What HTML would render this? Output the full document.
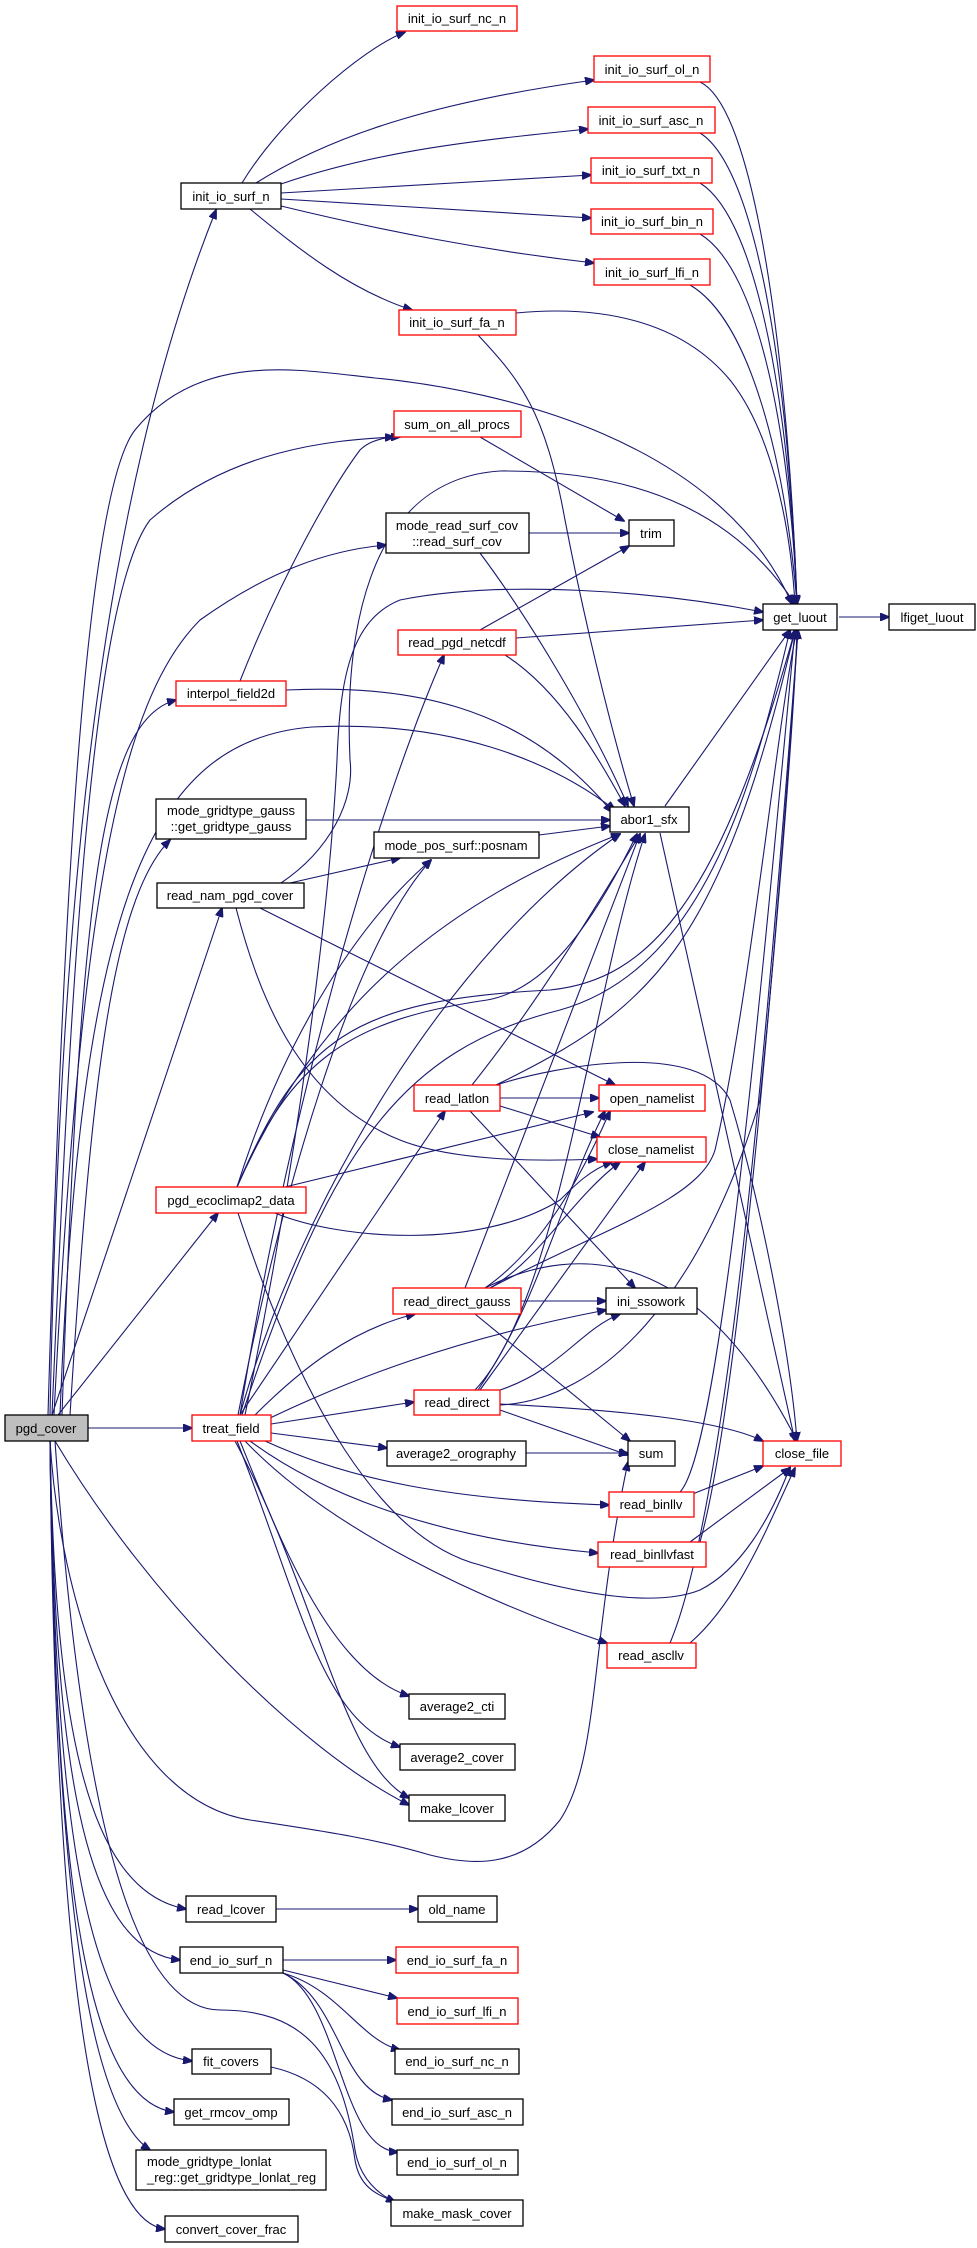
<!DOCTYPE html>
<html><head><meta charset="utf-8"><style>
html,body{margin:0;padding:0;background:#fff;}
svg{display:block;}
text{font-family:"Liberation Sans",sans-serif;font-size:13px;fill:#000;}
.e{fill:none;stroke:#191970;stroke-width:1.1;marker-end:url(#a);}
.n{fill:#fff;stroke:#000;stroke-width:1.3;}
.r{fill:#fff;stroke:#ff0000;stroke-width:1.3;}
</style></head><body>
<svg width="977" height="2248" viewBox="0 0 977 2248" xmlns="http://www.w3.org/2000/svg">
<defs><marker id="a" markerWidth="10" markerHeight="8" refX="9" refY="4" orient="auto" markerUnits="userSpaceOnUse"><path d="M0,0 L10,4 L0,8 z" fill="#191970" stroke="#191970"/></marker></defs>
<g>
<!-- init_io_surf_n edges -->
<path class="e" d="M242,183 C280,120 360,50 405,32"/>
<path class="e" d="M256,183 C340,130 450,100 594,80"/>
<path class="e" d="M281,184 C380,150 480,140 588,129"/>
<path class="e" d="M281,193 L591,175"/>
<path class="e" d="M281,199 L591,218"/>
<path class="e" d="M281,206 C380,230 480,250 594,263"/>
<path class="e" d="M250,209 C300,250 350,290 412,310"/>
<!-- to get_luout from init_io_* -->
<path class="e" d="M700,82 C760,110 790,400 797,604"/>
<path class="e" d="M700,133 C760,170 790,400 797,604"/>
<path class="e" d="M700,183 C760,220 790,420 797,604"/>
<path class="e" d="M700,234 C760,270 790,440 797,604"/>
<path class="e" d="M690,285 C750,320 785,460 797,604"/>
<path class="e" d="M516,313 C600,305 680,320 730,380 C770,430 790,520 795,604"/>
<path class="e" d="M478,335 C520,380 545,410 565,520 C590,650 620,760 634,806"/>
<!-- pgd_cover long edges -->
<path class="e" d="M50,1415 C60,900 100,500 216,210"/>
<path class="e" d="M48,1415 C60,1000 80,500 135,430 C200,350 300,370 375,378 C500,390 720,440 792,604"/>
<path class="e" d="M52,1415 C70,1000 90,600 150,520 C230,450 330,440 394,437"/>
<path class="e" d="M240,681 C280,580 330,490 360,450 C370,440 385,437 400,437"/>
<path class="e" d="M480,437 L624,521"/>
<path class="e" d="M529,533 L629,533"/>
<path class="e" d="M480,630 L629,546"/>
<path class="e" d="M516,638 L763,620"/>
<path class="e" d="M839,617 L889,617"/>
<path class="e" d="M54,1415 C80,900 120,700 200,620 C270,570 330,550 386,545"/>
<path class="e" d="M281,883 C330,850 355,800 350,760 C345,650 360,480 500,471 C650,470 740,520 795,604"/>
<path class="e" d="M245,1415 C300,1150 330,900 337,760 C340,680 350,620 400,600 C500,580 650,590 763,612"/>
<path class="e" d="M286,690 C400,685 520,700 612,812"/>
<path class="e" d="M60,1415 C80,900 150,740 312,727 C450,720 550,760 615,810"/>
<path class="e" d="M505,655 C560,690 600,760 625,806"/>
<path class="e" d="M480,553 C530,620 590,720 628,806"/>
<path class="e" d="M62,1415 C80,900 100,720 176,700"/>
<path class="e" d="M240,1415 C290,1100 380,800 444,655"/>
<path class="e" d="M70,1415 C90,1100 110,900 170,840"/>
<path class="e" d="M306,820 L610,820"/>
<path class="e" d="M539,835 L610,826"/>
<path class="e" d="M290,883 L400,858"/>
<path class="e" d="M260,908 L615,1085"/>
<path class="e" d="M236,908 C260,1000 300,1100 400,1140 C450,1160 530,1162 597,1159"/>
<path class="e" d="M52,1415 L222,908"/>
<path class="e" d="M58,1415 L218,1213"/>
<path class="e" d="M285,1187 L593,1112"/>
<path class="e" d="M275,1213 C340,1240 480,1250 560,1200 C575,1185 590,1170 612,1162"/>
<path class="e" d="M238,1213 C300,1400 380,1540 480,1565 C560,1590 650,1610 700,1590 C740,1570 770,1520 790,1467"/>
<path class="e" d="M237,1187 C280,1050 350,930 431,860"/>
<path class="e" d="M237,1187 C320,1000 450,900 620,834"/>
<path class="e" d="M237,1187 C290,1060 350,1020 487,1000 C544,990 590,930 637,834"/>
<path class="e" d="M237,1187 C300,1040 350,1000 550,990 C650,980 720,900 795,630"/>
<!-- treat_field edges -->
<path class="e" d="M255,1415 C300,1370 350,1330 415,1314"/>
<path class="e" d="M270,1418 C350,1380 450,1340 606,1310"/>
<path class="e" d="M271,1424 L414,1402"/>
<path class="e" d="M271,1433 L387,1448"/>
<path class="e" d="M265,1441 C350,1480 450,1500 609,1505"/>
<path class="e" d="M250,1441 C330,1500 450,1540 598,1553"/>
<path class="e" d="M245,1441 C330,1530 480,1600 607,1643"/>
<path class="e" d="M240,1441 C280,1540 330,1670 409,1696"/>
<path class="e" d="M237,1441 C300,1600 320,1720 400,1747"/>
<path class="e" d="M235,1441 C320,1600 340,1760 409,1798"/>
<path class="e" d="M240,1415 L445,1111"/>
<path class="e" d="M238,1415 C280,1200 350,950 431,860"/>
<path class="e" d="M240,1415 C300,1200 450,950 620,834"/>
<path class="e" d="M242,1415 C330,1150 400,1050 560,1010 C700,970 750,800 790,630"/>
<path class="e" d="M88,1428 L192,1428"/>
<path class="e" d="M55,1441 C150,1600 300,1750 409,1805"/>
<path class="e" d="M50,1441 C60,1600 120,1800 250,1820 C330,1832 380,1840 430,1855 C470,1865 520,1870 560,1820 C600,1760 590,1640 628,1462"/>
<!-- lower pgd_cover edges -->
<path class="e" d="M50,1441 C55,1700 80,1890 186,1909"/>
<path class="e" d="M50,1441 C55,1750 80,1950 180,1960"/>
<path class="e" d="M50,1441 C55,1800 80,2050 192,2061"/>
<path class="e" d="M50,1441 C55,1850 80,2100 174,2112"/>
<path class="e" d="M50,1441 C55,1900 90,2110 150,2150"/>
<path class="e" d="M50,1441 C55,1950 90,2220 165,2229"/>
<path class="e" d="M55,1441 C80,1800 130,2010 220,2010 C300,2010 340,2050 355,2150 C360,2180 380,2195 395,2202"/>
<!-- read_latlon -->
<path class="e" d="M500,1098 L599,1098"/>
<path class="e" d="M500,1106 L600,1137"/>
<path class="e" d="M470,1111 L635,1288"/>
<path class="e" d="M472,1085 C540,1000 600,900 640,834"/>
<path class="e" d="M496,1085 C650,1010 720,950 795,630"/>
<path class="e" d="M496,1085 C560,1065 700,1040 730,1100 C760,1200 790,1350 797,1441"/>
<!-- read_direct_gauss -->
<path class="e" d="M521,1301 L606,1301"/>
<path class="e" d="M475,1314 L630,1441"/>
<path class="e" d="M465,1288 L640,834"/>
<path class="e" d="M485,1288 C540,1250 580,1180 610,1111"/>
<path class="e" d="M490,1288 C540,1260 570,1200 620,1162"/>
<path class="e" d="M490,1288 C600,1230 700,1200 715,1150 C750,1000 780,700 797,630"/>
<path class="e" d="M485,1288 C580,1240 700,1250 797,1441"/>
<!-- read_direct -->
<path class="e" d="M500,1410 L628,1455"/>
<path class="e" d="M500,1404 C620,1410 720,1420 763,1441"/>
<path class="e" d="M500,1390 C560,1370 580,1330 620,1314"/>
<path class="e" d="M480,1390 L645,1162"/>
<path class="e" d="M478,1390 C540,1300 560,1200 605,1111"/>
<path class="e" d="M475,1390 C560,1300 590,1000 645,834"/>
<path class="e" d="M500,1405 C600,1400 700,1300 760,1100 C780,900 795,700 797,630"/>
<path class="e" d="M526,1453 L628,1453"/>
<!-- binllv etc -->
<path class="e" d="M690,1495 L763,1466"/>
<path class="e" d="M680,1492 C720,1450 760,1000 795,630"/>
<path class="e" d="M690,1542 L790,1468"/>
<path class="e" d="M700,1542 C740,1400 780,900 798,630"/>
<path class="e" d="M690,1643 C740,1600 770,1520 795,1468"/>
<path class="e" d="M670,1643 C730,1500 770,1000 798,630"/>
<path class="e" d="M665,806 L790,630"/>
<path class="e" d="M660,833 L795,1441"/>
<!-- bottom -->
<path class="e" d="M276,1909 L418,1909"/>
<path class="e" d="M283,1960 L396,1960"/>
<path class="e" d="M283,1970 L397,1998"/>
<path class="e" d="M283,1973 C340,1990 360,2040 400,2050"/>
<path class="e" d="M283,1973 C340,2000 340,2090 392,2100"/>
<path class="e" d="M283,1973 C340,2000 340,2150 398,2152"/>
<path class="e" d="M271,2067 C330,2080 350,2120 355,2160 C360,2190 380,2195 395,2202"/>
</g>
<g>
<rect class="r" x="397" y="6" width="120" height="25"/><text x="457" y="23" text-anchor="middle">init_io_surf_nc_n</text>
<rect class="r" x="594" y="56" width="116" height="26"/><text x="652" y="74" text-anchor="middle">init_io_surf_ol_n</text>
<rect class="r" x="588" y="107" width="127" height="26"/><text x="651" y="125" text-anchor="middle">init_io_surf_asc_n</text>
<rect class="r" x="591" y="158" width="121" height="25"/><text x="651" y="175" text-anchor="middle">init_io_surf_txt_n</text>
<rect class="r" x="591" y="209" width="122" height="25"/><text x="652" y="226" text-anchor="middle">init_io_surf_bin_n</text>
<rect class="r" x="594" y="259" width="116" height="26"/><text x="652" y="277" text-anchor="middle">init_io_surf_lfi_n</text>
<rect class="n" x="181" y="183" width="100" height="26"/><text x="231" y="201" text-anchor="middle">init_io_surf_n</text>
<rect class="r" x="399" y="310" width="117" height="25"/><text x="457" y="327" text-anchor="middle">init_io_surf_fa_n</text>
<rect class="r" x="394" y="411" width="127" height="26"/><text x="457" y="429" text-anchor="middle">sum_on_all_procs</text>
<rect class="n" x="386" y="513" width="143" height="40"/><text x="457" y="530" text-anchor="middle">mode_read_surf_cov</text><text x="457" y="546" text-anchor="middle">::read_surf_cov</text>
<rect class="n" x="629" y="520" width="45" height="26"/><text x="651" y="538" text-anchor="middle">trim</text>
<rect class="n" x="763" y="604" width="74" height="26"/><text x="800" y="622" text-anchor="middle">get_luout</text>
<rect class="n" x="889" y="604" width="86" height="26"/><text x="932" y="622" text-anchor="middle">lfiget_luout</text>
<rect class="r" x="398" y="630" width="118" height="25"/><text x="457" y="647" text-anchor="middle">read_pgd_netcdf</text>
<rect class="r" x="176" y="681" width="110" height="25"/><text x="231" y="698" text-anchor="middle">interpol_field2d</text>
<rect class="n" x="156" y="799" width="150" height="40"/><text x="231" y="815" text-anchor="middle">mode_gridtype_gauss</text><text x="231" y="831" text-anchor="middle">::get_gridtype_gauss</text>
<rect class="n" x="610" y="807" width="79" height="25"/><text x="649" y="824" text-anchor="middle">abor1_sfx</text>
<rect class="n" x="374" y="832" width="165" height="26"/><text x="456" y="850" text-anchor="middle">mode_pos_surf::posnam</text>
<rect class="n" x="157" y="883" width="147" height="25"/><text x="230" y="900" text-anchor="middle">read_nam_pgd_cover</text>
<rect class="r" x="414" y="1085" width="86" height="26"/><text x="457" y="1103" text-anchor="middle">read_latlon</text>
<rect class="r" x="599" y="1085" width="106" height="26"/><text x="652" y="1103" text-anchor="middle">open_namelist</text>
<rect class="r" x="597" y="1137" width="109" height="25"/><text x="651" y="1154" text-anchor="middle">close_namelist</text>
<rect class="r" x="156" y="1187" width="150" height="26"/><text x="231" y="1205" text-anchor="middle">pgd_ecoclimap2_data</text>
<rect class="r" x="393" y="1288" width="128" height="26"/><text x="457" y="1306" text-anchor="middle">read_direct_gauss</text>
<rect class="n" x="606" y="1288" width="91" height="26"/><text x="651" y="1306" text-anchor="middle">ini_ssowork</text>
<rect class="r" x="414" y="1390" width="86" height="25"/><text x="457" y="1407" text-anchor="middle">read_direct</text>
<rect x="5" y="1415" width="83" height="26" fill="#bfbfbf" stroke="#000" stroke-width="1.3"/><text x="46" y="1433" text-anchor="middle">pgd_cover</text>
<rect class="r" x="192" y="1415" width="79" height="26"/><text x="231" y="1433" text-anchor="middle">treat_field</text>
<rect class="n" x="387" y="1441" width="139" height="25"/><text x="456" y="1458" text-anchor="middle">average2_orography</text>
<rect class="n" x="628" y="1441" width="47" height="25"/><text x="651" y="1458" text-anchor="middle">sum</text>
<rect class="r" x="763" y="1441" width="78" height="25"/><text x="802" y="1458" text-anchor="middle">close_file</text>
<rect class="r" x="609" y="1492" width="85" height="25"/><text x="651" y="1509" text-anchor="middle">read_binllv</text>
<rect class="r" x="598" y="1542" width="108" height="25"/><text x="652" y="1559" text-anchor="middle">read_binllvfast</text>
<rect class="r" x="607" y="1643" width="89" height="25"/><text x="651" y="1660" text-anchor="middle">read_ascllv</text>
<rect class="n" x="409" y="1694" width="96" height="25"/><text x="457" y="1711" text-anchor="middle">average2_cti</text>
<rect class="n" x="400" y="1744" width="115" height="26"/><text x="457" y="1762" text-anchor="middle">average2_cover</text>
<rect class="n" x="409" y="1795" width="96" height="26"/><text x="457" y="1813" text-anchor="middle">make_lcover</text>
<rect class="n" x="186" y="1896" width="90" height="26"/><text x="231" y="1914" text-anchor="middle">read_lcover</text>
<rect class="n" x="418" y="1896" width="79" height="26"/><text x="457" y="1914" text-anchor="middle">old_name</text>
<rect class="n" x="180" y="1947" width="103" height="26"/><text x="231" y="1965" text-anchor="middle">end_io_surf_n</text>
<rect class="r" x="396" y="1947" width="122" height="26"/><text x="457" y="1965" text-anchor="middle">end_io_surf_fa_n</text>
<rect class="r" x="397" y="1998" width="121" height="26"/><text x="457" y="2016" text-anchor="middle">end_io_surf_lfi_n</text>
<rect class="n" x="395" y="2049" width="124" height="25"/><text x="457" y="2066" text-anchor="middle">end_io_surf_nc_n</text>
<rect class="n" x="192" y="2049" width="79" height="25"/><text x="231" y="2066" text-anchor="middle">fit_covers</text>
<rect class="n" x="174" y="2099" width="115" height="26"/><text x="231" y="2117" text-anchor="middle">get_rmcov_omp</text>
<rect class="n" x="392" y="2099" width="131" height="26"/><text x="457" y="2117" text-anchor="middle">end_io_surf_asc_n</text>
<rect class="n" x="136" y="2150" width="190" height="40"/><text x="147" y="2166">mode_gridtype_lonlat</text><text x="147" y="2182">_reg::get_gridtype_lonlat_reg</text>
<rect class="n" x="397" y="2150" width="121" height="25"/><text x="457" y="2167" text-anchor="middle">end_io_surf_ol_n</text>
<rect class="n" x="391" y="2200" width="132" height="26"/><text x="457" y="2218" text-anchor="middle">make_mask_cover</text>
<rect class="n" x="165" y="2216" width="133" height="26"/><text x="231" y="2234" text-anchor="middle">convert_cover_frac</text>
</g>
</svg>
</body></html>
